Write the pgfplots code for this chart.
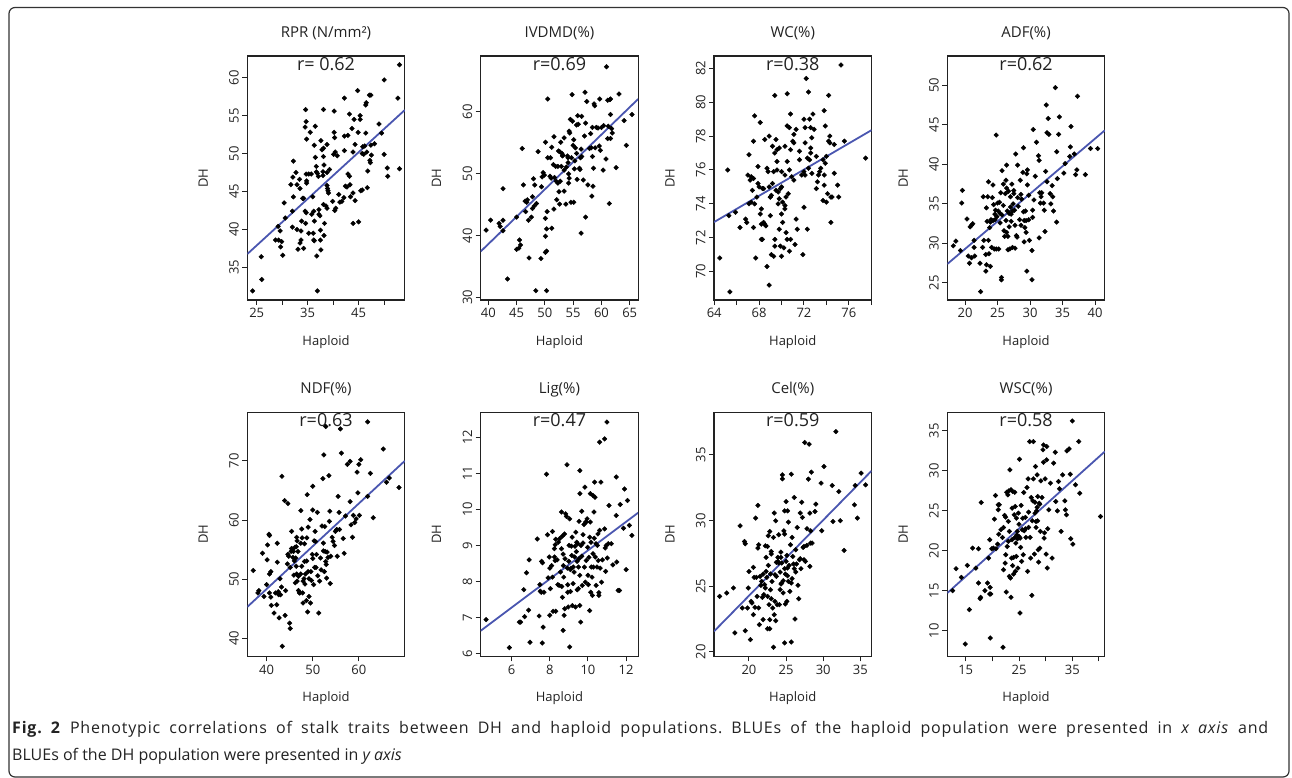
\documentclass[border=0pt]{standalone}
\usepackage{fontspec}
\setmainfont{Open Sans}
\usepackage{pgfplots}
\pgfplotsset{compat=1.18}
\definecolor{regline}{HTML}{4A56B0}
\definecolor{ink}{HTML}{222222}
\frenchspacing

\pgfplotsset{
  panel/.style={
    scale only axis, width=157.5pt, height=244pt, anchor=north west,
    axis line style={line width=1.1pt, ink},
    tick align=outside, tick pos=left, major tick length=5pt,
    tick style={line width=1pt, ink},
    tick label style={font=\fontsize{13}{13}\selectfont, text=ink},
    yticklabel style={rotate=90, anchor=south},
    xlabel={Haploid}, ylabel={DH},
    label style={font=\fontsize{13}{13}\selectfont, text=ink},
    xlabel style={at={(axis description cs:0.5,-0.172)}, anchor=center},
    ylabel style={at={(axis description cs:-0.28,0.5)}, anchor=center},
    every axis title shift=0pt,
    title style={at={(axis description cs:0.5,1.094)}, anchor=center,
      font=\fontsize{15}{15}\selectfont, text=ink},
    /pgf/number format/assume math mode=true,
    scaled ticks=false,
  },
  pts/.style={only marks, mark=square*, mark size=1.65pt,
    mark options={rotate=45, draw=black, fill=black}},
  fit/.style={no marks, line width=1.8pt, color=regline},
}
\newcommand{\rtext}[1]{\node[font=\fontsize{18}{18}\selectfont, text=ink] at (rel axis cs:0.5,0.967) {#1};}

\begin{document}
\begin{tikzpicture}[x=1pt,y=1pt]
\useasboundingbox (0,0) rectangle (1292,-778);
\draw[rounded corners=6pt, line width=1.2pt, black!80] (9,-7.5) rectangle (1289,-777);

% RPR
\begin{axis}[panel, at={(247.3pt,-56pt)}, title={RPR (N/mm²)},
  xmin=23.16, xmax=54.05, ymin=30.7, ymax=62.86,
  xtick={25,30,...,50}, xticklabels={25,,35,,45,}, ytick={35,40,...,60}]
\addplot[pts] table {
24.2 31.9
26.0 33.4
25.9 36.4
30.1 36.6
28.7 38.6
29.3 38.6
29.9 38.4
29.7 37.7
29.6 39.8
29.2 40.4
30.6 41.5
30.4 43.5
32.0 40.3
32.0 42.4
32.2 44.3
32.1 46.9
32.2 49.0
31.7 45.9
32.7 47.5
32.9 45.9
33.4 46.6
33.5 45.4
32.9 40.0
33.1 37.4
33.5 38.2
33.7 38.6
33.8 41.1
33.7 39.8
34.2 37.5
34.2 44.1
34.5 42.4
34.6 40.8
34.7 42.2
34.0 44.1
34.6 55.8
34.7 54.2
34.5 53.5
34.8 51.9
34.7 47.3
34.8 46.4
34.8 46.1
35.2 47.3
35.2 39.5
35.5 52.8
35.7 47.3
35.8 42.0
36.0 44.3
36.1 39.5
36.3 41.1
36.2 38.6
36.3 38.5
36.2 42.4
36.5 53.6
36.3 51.1
36.5 49.5
36.7 48.3
36.9 31.9
36.8 36.5
36.7 47.6
36.9 47.4
37.1 47.0
37.2 42.6
37.2 42.0
37.4 41.8
37.5 39.9
37.6 37.3
37.5 38.6
37.6 51.7
37.8 50.5
38.0 47.6
38.0 47.1
38.1 55.8
38.1 50.7
38.1 49.6
38.2 48.5
38.1 43.3
38.2 39.2
38.3 40.8
38.6 43.1
38.8 42.8
38.8 47.5
38.8 45.8
38.8 51.2
38.9 45.4
39.0 45.1
39.1 44.8
39.3 47.9
39.9 43.7
40.1 49.9
40.2 55.6
40.2 52.8
40.3 52.1
40.4 50.2
40.3 42.5
40.5 42.8
40.8 49.7
41.1 44.6
41.3 43.6
41.7 43.7
42.1 44.2
42.2 52.3
42.2 57.3
42.2 50.4
42.4 45.7
42.7 45.6
42.9 52.4
42.9 47.3
43.2 55.2
43.2 47.0
43.3 45.9
43.4 44.3
43.7 53.3
43.9 44.8
43.9 40.8
43.9 50.2
44.1 54.5
44.3 43.8
44.3 51.2
44.8 58.3
44.9 52.8
45.0 41.0
45.3 54.5
45.3 55.0
45.4 45.1
45.7 45.2
45.7 50.0
45.8 50.9
46.0 49.9
46.2 51.0
46.4 52.7
46.4 56.4
46.5 56.7
46.6 50.2
46.7 45.5
46.8 47.7
47.1 57.7
47.4 57.7
47.2 49.1
47.3 48.8
47.5 49.8
47.4 51.1
48.1 51.3
49.0 53.9
49.5 52.7
50.0 59.7
50.0 49.9
50.6 48.1
50.7 47.0
52.7 57.3
53.0 61.7
53.0 48.0
};
\addplot[fit] coordinates {(23.16,36.76) (54.05,55.74)};
\rtext{r= 0.62}
\end{axis}

% IVDMD
\begin{axis}[panel, at={(480.7pt,-56pt)}, title={IVDMD(\%)},
  xmin=38.65, xmax=66.5, ymin=29.6, ymax=69.05,
  xtick={40,45,...,65}, ytick={30,40,50,60}]
\addplot[pts] table {
39.6 40.9
40.4 42.5
41.9 42.0
42.1 41.5
42.6 42.5
42.6 40.8
42.6 47.6
43.4 33.0
45.0 43.0
45.0 37.8
45.4 38.0
45.5 39.3
45.7 38.5
46.0 54.1
46.2 48.2
46.5 45.6
46.8 45.4
46.9 45.8
46.6 43.9
47.1 42.5
47.2 36.4
47.6 43.0
47.8 44.4
47.8 46.3
48.0 49.2
48.2 48.2
48.1 44.8
48.4 31.1
48.5 45.2
48.8 53.6
49.3 36.3
49.4 47.9
49.5 49.5
49.7 50.2
49.9 49.8
50.1 55.1
50.1 39.9
50.1 42.8
50.1 37.3
50.3 37.5
50.3 31.1
50.5 62.1
50.4 43.9
50.5 52.6
50.3 41.1
50.9 49.6
51.0 52.6
51.1 49.3
51.2 41.2
51.2 54.3
51.5 51.5
51.6 44.3
51.6 56.0
51.7 49.4
51.9 51.2
52.0 48.8
52.1 45.8
52.3 48.5
52.3 51.2
52.4 53.7
52.5 47.1
52.6 53.6
52.6 45.1
52.7 48.8
52.8 55.1
52.9 51.2
53.0 53.3
53.1 52.9
53.2 53.0
53.4 55.8
53.4 50.6
53.4 47.2
53.7 45.1
53.8 51.1
54.0 52.9
54.1 52.6
54.1 51.8
54.2 50.0
54.3 49.3
54.2 48.5
54.3 56.9
54.4 56.6
54.5 58.8
54.6 45.4
54.7 52.6
54.8 62.8
54.9 58.5
55.0 54.6
55.1 55.5
55.1 45.4
55.2 50.8
55.3 52.1
55.4 54.2
55.6 53.3
55.7 49.1
55.6 57.9
55.8 59.4
55.9 58.0
56.1 50.9
56.2 50.7
56.3 52.6
56.4 40.4
56.4 54.0
56.5 52.8
56.5 59.3
56.8 49.0
57.0 56.1
57.1 63.2
57.2 43.0
57.2 58.2
57.4 61.7
57.6 48.2
57.9 54.1
58.1 56.5
58.2 54.2
58.3 46.4
58.4 52.8
58.4 57.5
58.5 48.0
58.6 50.9
58.7 61.3
58.8 61.0
58.9 54.2
59.1 57.5
59.4 57.4
59.6 54.5
59.7 62.1
59.8 53.8
60.0 57.5
60.3 50.6
60.4 57.8
60.8 52.4
60.9 67.3
61.1 61.9
61.1 55.7
61.2 57.7
61.4 45.2
61.5 62.0
61.6 62.1
61.6 59.6
61.6 55.7
61.8 57.3
61.9 56.6
62.6 51.0
63.1 62.9
64.0 58.6
64.4 54.6
65.4 59.6
};
\addplot[fit] coordinates {(38.65,37.45) (66.5,62.1)};
\rtext{r=0.69}
\end{axis}

% WC
\begin{axis}[panel, at={(714pt,-56pt)}, title={WC(\%)},
  xmin=63.98, xmax=78.02, ymin=68.32, ymax=82.73,
  xtick={64,66,...,78}, xticklabels={64,,68,,72,,76,}, ytick={70,72,...,82}]
\addplot[pts] table {
64.5 70.8
65.2 76.0
65.3 73.3
65.4 68.8
65.9 73.5
66.3 72.6
66.8 73.1
66.9 72.9
67.1 76.9
67.0 75.7
67.1 74.0
67.2 75.4
67.3 75.6
67.3 74.1
67.4 74.8
67.5 72.6
67.5 75.5
67.5 77.7
67.6 79.2
67.6 74.0
67.7 70.8
67.8 74.4
67.9 76.2
67.9 75.2
68.0 75.0
68.1 78.8
68.1 73.4
68.2 73.7
68.2 72.8
68.2 71.9
68.3 71.9
68.3 74.9
68.4 74.9
68.4 72.9
68.5 72.8
68.5 77.8
68.6 72.7
68.7 76.1
68.7 70.3
68.8 75.9
68.9 78.0
68.9 75.0
68.9 69.2
69.0 74.4
69.0 73.3
69.0 74.4
69.1 74.5
69.1 71.0
69.2 75.2
69.2 77.4
69.3 70.9
69.3 75.9
69.4 80.4
69.4 77.0
69.4 71.5
69.4 71.9
69.5 74.8
69.5 77.8
69.6 76.0
69.6 77.2
69.6 76.5
69.7 74.7
69.7 74.0
69.8 77.3
69.8 72.5
69.8 74.3
69.9 71.5
69.9 74.9
70.0 75.9
70.0 75.0
70.0 73.4
70.0 70.9
70.1 72.9
70.1 74.1
70.2 71.4
70.3 75.7
70.3 73.9
70.3 73.7
70.3 77.4
70.4 74.4
70.4 72.3
70.5 76.5
70.5 78.6
70.5 80.5
70.5 71.9
70.6 74.6
70.7 78.5
70.7 76.0
70.7 71.2
70.8 71.9
70.8 77.2
70.8 79.3
70.9 75.6
71.0 77.7
71.1 75.4
71.1 78.1
71.1 77.6
71.2 71.6
71.3 73.1
71.3 78.4
71.4 72.5
71.6 77.1
71.6 76.6
71.8 75.7
71.9 71.0
72.0 73.8
72.0 79.0
72.0 75.9
72.1 78.5
72.1 75.7
72.1 77.6
72.2 81.4
72.3 72.5
72.3 76.7
72.4 80.6
72.4 76.1
72.5 79.0
72.5 76.6
72.6 77.3
72.6 78.5
72.6 77.0
72.7 75.8
72.7 77.9
72.8 79.3
72.9 78.4
73.1 76.8
73.1 74.9
73.2 75.3
73.3 75.7
73.4 75.9
73.5 76.1
73.7 76.6
73.7 74.2
73.8 79.5
73.8 75.7
73.8 75.1
73.9 76.4
73.9 78.6
74.0 74.1
74.0 76.8
74.1 74.6
74.2 80.4
74.2 77.7
74.3 77.6
74.3 78.0
74.4 72.9
74.4 74.4
74.5 74.4
74.7 77.5
74.7 75.8
75.0 75.1
75.1 74.4
75.3 82.2
75.6 77.7
77.5 76.7
};
\addplot[fit] coordinates {(63.98,72.92) (78.02,78.35)};
\rtext{r=0.38}
\end{axis}

% ADF
\begin{axis}[panel, at={(947.3pt,-56pt)}, title={ADF(\%)},
  xmin=17.28, xmax=41.5, ymin=22.85, ymax=53.7,
  xtick={20,25,...,40}, ytick={25,30,...,50}]
\addplot[pts] table {
18.2 29.7
18.6 30.3
19.3 29.1
19.5 35.1
19.6 36.7
20.3 33.1
20.5 28.4
20.7 27.5
20.8 32.1
21.0 32.3
21.2 32.5
21.0 28.2
21.4 30.4
21.5 28.4
21.4 29.5
22.3 27.5
22.4 23.9
22.7 29.5
22.8 35.9
22.9 30.4
23.2 26.5
23.2 28.6
23.3 27.3
23.3 34.5
23.4 32.8
23.5 35.9
23.6 37.8
23.6 30.4
23.7 28.7
23.8 32.0
23.9 32.7
23.9 27.1
24.0 33.0
24.1 29.5
24.2 35.8
24.3 37.4
24.3 32.9
24.4 34.9
24.5 29.3
24.6 33.7
24.6 33.0
24.7 34.2
24.8 29.3
24.8 43.7
24.9 33.4
25.0 35.1
25.1 34.1
25.2 29.3
25.3 35.2
25.4 33.8
25.4 32.6
25.5 36.4
25.6 25.7
25.6 25.4
25.7 39.2
25.7 33.6
25.9 37.5
25.9 34.8
26.0 31.6
26.1 30.9
26.2 36.3
26.3 38.0
26.3 32.9
26.4 31.4
26.4 37.0
26.4 39.9
26.5 34.1
26.6 30.9
26.6 29.2
26.7 36.6
26.8 32.1
26.8 33.8
26.9 29.3
27.0 34.6
27.0 35.9
27.1 32.8
27.1 33.7
27.2 37.5
27.3 29.5
27.3 34.1
27.4 35.0
27.5 36.3
27.5 36.7
27.6 34.2
27.7 32.3
27.7 29.4
27.8 41.3
27.9 31.0
28.0 30.8
28.1 35.8
28.1 39.9
28.2 34.7
28.4 33.0
28.5 38.0
28.6 36.2
28.6 32.3
28.7 35.6
28.9 39.0
29.0 42.1
29.0 34.0
29.1 30.2
29.1 32.9
29.2 32.0
29.3 34.1
29.4 32.9
29.4 31.4
29.5 38.8
29.5 26.5
29.6 39.3
29.6 37.4
29.8 33.0
29.8 36.1
29.9 30.4
30.3 25.4
30.3 29.1
30.4 34.2
30.4 33.3
30.5 44.4
30.6 35.5
30.8 38.5
31.0 42.8
31.3 41.1
31.4 40.5
31.4 30.7
31.5 36.4
31.6 35.1
31.7 35.9
31.8 36.4
32.1 35.1
32.2 34.2
32.3 31.5
32.4 39.1
32.5 47.5
32.6 37.8
32.6 44.0
32.8 45.8
32.9 43.8
33.1 36.3
33.2 35.0
33.4 37.3
33.5 35.9
33.6 34.1
33.9 49.7
34.1 41.6
34.1 32.7
34.2 38.2
34.4 43.8
34.5 46.0
35.2 38.9
35.4 40.1
36.1 41.0
36.2 42.2
36.3 44.8
36.8 41.3
37.0 38.7
37.2 39.3
37.3 48.6
38.5 38.7
39.3 42.0
40.4 42.0
};
\addplot[fit] coordinates {(17.28,27.4) (41.5,44.3)};
\rtext{r=0.62}
\end{axis}

% NDF
\begin{axis}[panel, at={(247.3pt,-412.3pt)}, title={NDF(\%)},
  xmin=35.8, xmax=69.96, ymin=37.0, ymax=78.2,
  xtick={40,50,60}, ytick={40,50,60,70}]
\addplot[pts] table {
37.1 51.5
38.1 47.7
38.3 48.1
39.1 54.4
39.4 47.1
40.0 49.1
40.1 53.3
40.2 55.8
40.5 57.6
40.6 57.4
40.6 50.9
40.9 51.3
40.6 47.7
40.9 47.0
41.0 45.6
41.6 44.3
41.9 47.7
42.2 45.7
42.3 52.9
42.3 56.1
42.5 47.9
42.6 47.4
42.7 43.5
42.9 50.1
43.0 47.4
43.2 48.7
43.3 67.4
43.4 38.7
43.9 63.3
44.0 43.9
44.1 48.1
44.5 52.6
44.6 62.8
44.6 54.2
44.8 53.9
45.0 42.6
45.1 41.7
45.1 52.0
45.3 54.7
45.4 58.1
45.4 55.2
45.6 55.1
45.7 53.7
45.8 54.7
45.9 50.7
46.0 53.1
46.1 55.4
46.2 49.4
46.3 53.6
46.4 55.5
46.4 52.2
46.5 57.1
46.5 50.9
46.6 56.5
46.6 49.7
46.8 54.7
46.9 48.1
46.9 50.5
47.1 47.7
47.2 47.7
47.4 56.1
47.4 50.9
47.4 61.6
47.6 58.5
47.6 52.2
47.7 57.0
47.8 47.7
47.9 49.7
48.1 50.1
47.9 46.0
48.2 56.0
48.2 53.0
48.3 49.2
48.4 50.9
48.6 46.4
48.7 57.0
48.7 53.1
48.8 64.3
48.9 44.5
49.0 51.3
49.0 58.8
49.2 47.1
49.2 50.1
49.4 60.1
49.5 46.0
49.6 51.3
49.7 49.8
49.9 54.2
50.0 65.7
50.0 53.5
50.0 61.7
50.2 49.1
50.3 56.5
50.4 52.0
50.5 58.1
50.6 56.4
50.7 52.0
50.8 54.2
51.0 61.3
51.1 50.6
51.3 44.3
51.5 49.7
51.7 53.6
51.8 51.6
52.0 59.0
52.2 67.0
52.3 56.1
52.3 54.8
52.4 71.0
52.5 51.3
52.6 58.9
52.7 54.7
52.8 53.0
52.8 75.8
52.9 52.5
53.0 50.2
53.1 54.6
53.3 53.7
53.5 67.5
53.6 59.8
53.7 61.5
53.8 49.3
53.9 53.9
54.2 57.1
54.4 56.4
54.7 55.7
54.9 58.1
55.2 58.4
55.3 53.9
55.5 64.0
55.7 61.3
55.8 58.4
56.0 75.4
56.2 71.3
56.6 56.9
56.8 54.4
57.1 60.7
57.5 69.4
58.1 69.9
58.1 63.1
58.3 59.2
58.6 57.1
58.8 60.8
59.1 59.6
59.4 60.2
59.6 68.1
59.8 64.6
60.0 69.4
60.1 60.8
60.4 70.2
61.9 64.0
61.9 76.6
62.5 67.9
63.1 60.4
65.3 72.0
66.0 66.4
66.6 67.1
68.7 65.5
};
\addplot[fit] coordinates {(35.8,45.34) (69.96,70.0)};
\rtext{r=0.63}
\end{axis}

% Lig
\begin{axis}[panel, at={(480.7pt,-412.3pt)}, title={Lig(\%)},
  xmin=4.38, xmax=12.63, ymin=5.92, ymax=12.70,
  xtick={6,8,10,12}, ytick={6,7,...,12}]
\addplot[pts] table {
4.66 6.94
5.88 6.16
6.40 6.87
6.47 6.87
6.64 7.77
6.68 7.02
6.78 8.24
6.89 7.20
6.92 8.60
6.96 6.31
7.34 9.18
7.44 7.04
7.48 7.91
7.50 7.73
7.55 7.70
7.57 8.56
7.62 8.52
7.60 6.29
7.65 6.73
7.69 7.70
7.83 10.98
7.88 9.30
7.91 8.10
7.97 8.68
8.00 8.37
8.03 7.80
8.00 7.06
8.10 8.44
8.14 9.39
8.14 8.12
8.17 7.17
8.24 8.68
8.24 8.91
8.28 9.02
8.28 8.58
8.31 9.17
8.31 7.17
8.38 8.60
8.42 7.91
8.45 9.09
8.49 7.89
8.52 9.19
8.56 8.26
8.61 9.93
8.61 8.91
8.63 7.86
8.66 9.26
8.66 7.56
8.70 8.76
8.70 6.64
8.71 8.44
8.73 8.12
8.75 7.06
8.77 9.32
8.78 7.24
8.80 8.63
8.83 9.88
8.87 9.81
8.90 11.24
8.92 8.37
8.94 7.91
8.94 7.70
8.96 7.29
8.99 8.56
9.01 9.00
9.04 9.74
9.04 6.18
9.08 8.33
9.08 7.72
9.11 8.37
9.13 8.98
9.15 8.72
9.17 9.23
9.18 7.33
9.22 7.94
9.23 8.40
9.27 8.26
9.30 8.68
9.32 8.98
9.34 7.29
9.36 9.37
9.39 8.83
9.41 9.09
9.43 8.56
9.44 7.77
9.46 9.05
9.50 8.40
9.50 7.80
9.53 9.67
9.53 8.63
9.57 11.08
9.57 8.17
9.57 7.33
9.58 10.44
9.62 6.87
9.63 9.00
9.67 9.95
9.67 8.70
9.70 7.89
9.74 9.07
9.74 9.30
9.79 9.58
9.81 8.40
9.84 10.62
9.86 7.98
9.88 9.65
9.91 8.58
9.91 9.65
9.95 9.74
9.98 8.95
10.00 8.17
10.02 7.91
10.05 8.67
10.09 7.19
10.09 9.23
10.12 10.44
10.12 9.65
10.14 7.70
10.16 9.09
10.17 8.40
10.21 8.12
10.23 7.61
10.26 8.77
10.26 10.39
10.28 8.40
10.31 9.93
10.33 9.20
10.35 10.76
10.37 10.34
10.38 8.68
10.42 9.05
10.43 7.89
10.47 8.40
10.49 9.00
10.52 9.32
10.54 8.58
10.57 7.69
10.57 7.61
10.61 9.42
10.61 11.87
10.64 8.37
10.68 10.76
10.71 7.98
10.75 8.60
10.87 11.96
10.87 9.46
10.90 8.93
10.92 8.28
10.96 9.00
10.99 12.43
11.01 8.65
11.06 9.05
11.10 10.11
11.22 9.05
11.30 8.46
11.48 10.90
11.48 9.83
11.51 8.54
11.58 7.75
11.65 7.75
11.69 10.14
11.86 9.48
11.91 10.57
12.00 8.33
12.07 10.25
12.17 9.56
12.30 9.28
};
\addplot[fit] coordinates {(4.38,6.63) (12.63,9.91)};
\rtext{r=0.47}
\end{axis}

% Cel
\begin{axis}[panel, at={(714pt,-412.3pt)}, title={Cel(\%)},
  xmin=15.29, xmax=36.5, ymin=19.67, ymax=38.24,
  xtick={20,25,30,35}, ytick={20,25,30,35}]
\addplot[pts] table {
16.05 24.23
17.0 24.49
17.9 24.87
18.1 21.45
18.8 29.60
19.1 23.35
19.4 28.41
19.5 28.24
19.5 21.62
19.8 23.35
19.9 24.87
20.0 26.13
20.2 20.94
20.3 23.85
20.4 23.73
20.6 26.44
20.7 25.68
20.6 22.84
20.8 23.40
20.9 30.19
21.0 25.68
21.1 24.23
21.2 27.91
21.2 31.15
21.3 23.35
21.3 28.16
21.4 22.08
21.5 25.75
21.6 25.07
21.7 25.37
21.8 24.16
21.9 22.46
21.9 25.93
22.0 24.36
22.1 25.12
22.2 28.08
22.2 24.87
22.3 27.20
22.3 26.13
22.4 25.68
22.5 24.23
22.5 28.03
22.5 21.77
22.6 26.59
22.6 28.84
22.7 23.60
22.8 21.77
22.8 22.46
22.8 29.17
22.9 24.74
22.9 25.93
23.0 27.45
23.0 24.05
23.0 27.65
23.1 25.37
23.2 23.35
23.3 20.36
23.3 28.72
23.4 30.57
23.4 22.84
23.5 25.88
23.5 23.85
23.6 29.98
23.6 22.38
23.7 26.82
23.7 25.75
23.8 23.60
23.9 26.89
23.9 27.20
24.0 28.92
24.0 26.77
24.1 23.60
24.2 24.74
24.2 26.08
24.3 27.20
24.3 25.17
24.3 27.60
24.4 25.25
24.4 26.77
24.5 33.48
24.5 33.18
24.6 25.42
24.6 24.49
24.7 29.22
24.8 20.69
24.8 26.34
24.8 30.74
24.8 28.97
24.9 25.93
24.9 23.65
25.0 31.45
25.0 26.89
25.1 27.35
25.1 23.85
25.2 30.74
25.2 25.80
25.2 26.39
25.3 29.88
25.3 25.37
25.4 26.59
25.5 24.61
25.6 28.16
25.7 25.25
25.7 20.76
25.7 33.53
25.8 28.72
25.8 25.58
25.9 27.27
26.0 26.69
26.1 31.76
26.1 26.34
26.2 22.51
26.3 27.78
26.3 26.08
26.4 26.69
26.5 29.48
26.6 25.07
26.7 24.05
26.8 27.02
26.9 30.57
26.9 27.10
27.0 26.34
27.1 31.40
27.2 30.24
27.3 27.96
27.4 27.02
27.4 28.03
27.5 35.94
27.6 26.89
27.8 29.38
27.8 28.11
28.0 33.15
28.1 35.81
28.2 30.57
28.2 26.51
28.3 29.22
28.3 28.29
28.4 33.68
28.5 28.29
28.9 30.69
29.0 31.25
29.7 32.85
29.8 29.22
30.1 34.11
31.2 32.67
31.3 29.93
31.7 36.77
32.1 32.21
32.3 29.99
32.8 27.73
34.2 31.20
34.3 32.67
34.6 30.19
35.1 33.61
35.7 32.72
};
\addplot[fit] coordinates {(15.29,21.57) (36.5,33.78)};
\rtext{r=0.59}
\end{axis}

% WSC
\begin{axis}[panel, at={(947.3pt,-412.3pt)}, title={WSC(\%)},
  xmin=11.55, xmax=41.1, ymin=6.79, ymax=37.33,
  xtick={15,20,...,40}, xticklabels={15,,25,,35,}, ytick={10,15,...,35}]
\addplot[pts] table {
12.55 15.0
13.2 17.75
14.2 16.67
14.9 8.33
15.3 18.17
15.7 12.63
16.3 20.33
16.9 17.83
17.4 20.25
17.4 15.96
17.7 14.0
17.8 14.17
17.9 26.04
18.6 15.0
19.1 15.96
19.3 19.08
19.5 21.38
19.5 14.58
19.6 15.42
19.6 9.08
19.7 14.58
19.9 20.25
20.2 20.33
20.4 23.96
20.6 26.92
20.7 20.25
21.0 20.83
21.1 25.75
21.1 25.13
21.2 22.08
21.3 25.75
21.6 22.63
21.9 21.67
22.1 17.63
22.0 7.92
22.1 22.92
22.3 24.42
22.4 18.46
22.5 19.5
22.5 24.21
22.6 14.83
22.7 27.33
22.8 20.54
22.9 27.0
23.0 23.67
23.0 21.17
23.1 27.5
23.2 16.79
23.2 22.42
23.3 30.13
23.4 16.58
23.5 14.17
23.5 27.63
23.6 19.08
23.7 25.33
23.7 21.38
23.8 18.13
23.8 27.42
24.0 19.17
24.0 17.08
24.1 24.5
24.2 21.67
24.2 27.33
24.3 17.42
24.3 25.54
24.4 20.96
24.5 24.08
24.5 19.29
24.6 22.0
24.7 21.5
24.7 22.42
24.8 17.83
24.9 24.71
25.0 21.79
25.0 23.33
25.1 31.46
25.2 21.58
25.2 12.21
25.3 20.42
25.4 25.67
25.5 18.67
25.6 22.63
25.7 24.08
25.8 19.5
25.9 27.29
26.0 22.5
26.2 24.17
26.2 22.75
26.3 21.67
26.5 27.92
26.6 17.42
26.7 29.0
26.8 22.92
26.8 24.83
27.0 33.67
27.1 21.67
27.2 19.08
27.3 26.67
27.4 14.42
27.5 23.75
27.6 26.25
27.7 33.67
27.7 29.0
27.9 19.58
28.0 24.71
28.0 26.08
28.1 30.54
28.2 23.67
28.2 22.92
28.3 25.0
28.4 25.42
28.4 29.5
28.5 23.75
28.5 26.79
28.6 20.13
28.7 18.58
28.8 25.96
28.9 20.33
28.9 25.83
29.0 22.42
29.1 28.75
29.3 26.67
29.5 32.63
29.6 31.08
29.6 33.25
29.7 21.58
29.8 22.25
29.9 29.0
30.1 19.58
30.2 31.38
30.2 33.04
30.3 17.83
30.4 22.75
30.6 25.13
30.9 28.46
31.2 19.08
31.5 30.96
31.8 32.33
31.9 26.17
32.2 25.0
32.4 28.67
32.6 27.75
32.9 22.42
33.2 29.5
33.6 26.25
33.7 25.13
33.9 24.5
34.0 32.5
34.4 32.75
34.6 29.58
34.7 21.5
35.0 36.25
35.1 20.83
35.6 28.25
36.2 33.67
36.4 27.21
40.3 24.29
};
\addplot[fit] coordinates {(11.55,14.71) (41.1,32.42)};
\rtext{r=0.58}
\end{axis}

% caption
\node[anchor=base west, inner sep=0pt, text=ink, font=\fontsize{16}{19}\selectfont] at (12,-733)
  {\addfontfeature{LetterSpace=5}\makebox[1256pt][s]{\textbf{Fig. 2} Phenotypic correlations of stalk traits between DH and haploid populations. BLUEs of the haploid population were presented in \textit{x axis} and}};
\node[anchor=base west, inner sep=0pt, text=ink, font=\fontsize{16}{19}\selectfont] at (12,-760)
  {BLUEs of the DH population were presented in \textit{y axis}};
\end{tikzpicture}
\end{document}
